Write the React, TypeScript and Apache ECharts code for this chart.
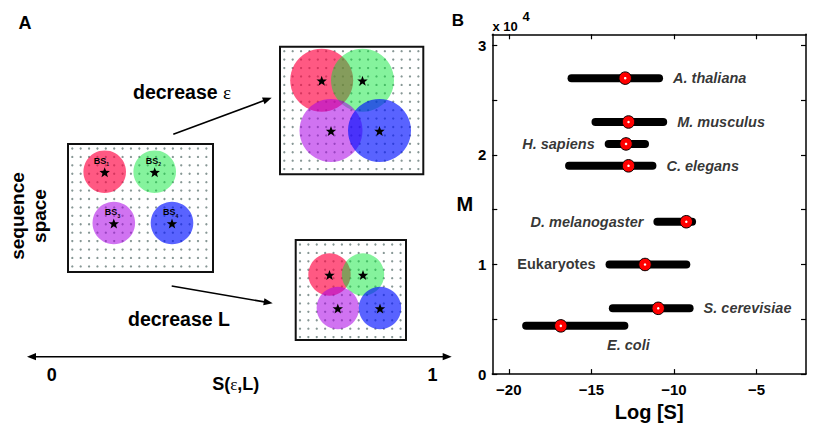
import { useEffect, useRef } from 'react';
import * as echarts from 'echarts';

// ---- Panel B data ----
const species = ['A. thaliana', 'M. musculus', 'H. sapiens', 'C. elegans', 'D. melanogaster', 'Eukaryotes', 'S. cerevisiae', 'E. coli'];
const mValues = [27000, 23000, 21000, 19000, 13900, 10000, 6000, 4400];
const logSLow = [-16.2, -14.75, -13.95, -16.35, -11.0, -13.9, -13.7, -18.95];
const logSHigh = [-10.9, -10.65, -11.75, -11.3, -8.9, -9.25, -9.05, -13.0];
const logSMid = [-12.95, -12.75, -12.9, -12.75, -9.25, -11.75, -10.95, -16.85];
const xTicks = [-20, -15, -10, -5];
const yTicks = [0, 5000, 10000, 15000, 20000, 25000, 30000];
const yLabelValues = [0, 10000, 20000, 30000];

// ---- Panel A text ----
const bsLabels = ['1', '2', '3', '4'];

const FONT = "'Liberation Sans', Arial, sans-serif";
const SERIF = "'Liberation Serif', 'DejaVu Serif', serif";

const labelSide: Record<string, string> = {
  'A. thaliana': 'right', 'M. musculus': 'right', 'H. sapiens': 'left', 'C. elegans': 'right',
  'D. melanogaster': 'left', 'Eukaryotes': 'left', 'S. cerevisiae': 'right', 'E. coli': 'bottom',
};

function starPts(cx: number, cy: number, R: number, r: number) {
  const pts: number[][] = [];
  for (let i = 0; i < 10; i++) {
    const a = -Math.PI / 2 + (i * Math.PI) / 5;
    const rad = i % 2 === 0 ? R : r;
    pts.push([cx + rad * Math.cos(a), cy + rad * Math.sin(a)]);
  }
  return pts;
}

function arrow(x1: number, y1: number, x2: number, y2: number, both = false) {
  const els: any[] = [];
  const dx = x2 - x1, dy = y2 - y1;
  const L = Math.hypot(dx, dy);
  const ux = dx / L, uy = dy / L;
  const nx = -uy, ny = ux;
  const len = 9, w = 3.6;
  const head = (tx: number, ty: number, sx: number, sy: number) => {
    const bx = tx - len * sx, by = ty - len * sy;
    return {
      type: 'polygon', silent: true,
      shape: { points: [[tx, ty], [bx + w * nx, by + w * ny], [bx - w * nx, by - w * ny]] },
      style: { fill: '#000' },
    };
  };
  els.push({ type: 'line', silent: true, shape: { x1: both ? x1 + 4 * ux : x1, y1: both ? y1 + 4 * uy : y1, x2: x2 - 4 * ux, y2: y2 - 4 * uy }, style: { stroke: '#000', lineWidth: 1.6 } });
  els.push(head(x2, y2, ux, uy));
  if (both) els.push(head(x1, y1, -ux, -uy));
  return els;
}

const circleColors = ['rgba(255,0,64,0.65)', 'rgba(0,230,50,0.48)', 'rgba(170,0,230,0.55)', 'rgba(0,16,255,0.65)'];

function box(x0: number, y0: number, x1: number, y1: number, centers: number[][], r: number, starR: number, withBS: boolean) {
  const els: any[] = [];
  els.push({ type: 'rect', silent: true, shape: { x: x0, y: y0, width: x1 - x0, height: y1 - y0 }, style: { fill: '#fff' } });
  for (let x = x0 + 4.3; x < x1 - 2; x += 8.38) {
    for (let y = y0 + 4.5; y < y1 - 2; y += 8.42) {
      els.push({ type: 'circle', silent: true, shape: { cx: x, cy: y, r: 1.15 }, style: { fill: '#879795' } });
    }
  }
  centers.forEach((c, i) => {
    els.push({ type: 'circle', silent: true, shape: { cx: c[0], cy: c[1], r }, style: { fill: circleColors[i] } });
  });
  centers.forEach((c) => {
    els.push({ type: 'polygon', silent: true, shape: { points: starPts(c[0], c[1] + 1, starR, starR * 0.42) }, style: { fill: '#000' } });
  });
  if (withBS) {
    centers.forEach((c, i) => {
      const dx = i === 0 ? -11 : -9;
      els.push({ type: 'text', silent: true, x: c[0] + dx, y: c[1] - 11, style: { text: 'BS', font: `bold 9px ${FONT}`, fill: '#000', textAlign: 'left', textVerticalAlign: 'middle', align: 'left', verticalAlign: 'middle' } });
      els.push({ type: 'text', silent: true, x: c[0] + dx + 12.6, y: c[1] - 7.5, style: { text: bsLabels[i], font: `bold 5px ${FONT}`, fill: '#000', textAlign: 'left', textVerticalAlign: 'middle', align: 'left', verticalAlign: 'middle' } });
    });
  }
  els.push({ type: 'rect', silent: true, shape: { x: x0, y: y0, width: x1 - x0, height: y1 - y0 }, style: { fill: 'none', stroke: '#111', lineWidth: 2 } });
  return els;
}

function txt(x: number, y: number, text: string, font: string, align = 'center', extra: any = {}) {
  return {
    type: 'text', silent: true, x, y, ...extra,
    style: { text, font, fill: '#000', textAlign: align, textVerticalAlign: 'middle', align, verticalAlign: 'middle', ...(extra.style || {}) },
  };
}

export default function App() {
  const ref = useRef<HTMLDivElement>(null);
  useEffect(() => {
    if (!ref.current) return;
    const chart = echarts.init(ref.current, null, { renderer: 'svg' });

    const graphics: any[] = [];
    // Panel A
    graphics.push(txt(25, 23, 'A', `bold 18px ${FONT}`));
    graphics.push(...box(68, 144, 213, 272, [[104.7, 171.7], [154.7, 171.7], [113.8, 223], [172, 223]], 21.3, 5.5, true));
    graphics.push(...box(280, 46.7, 423.3, 174.3, [[321.7, 80.3], [362.5, 80.3], [331, 130.5], [379.5, 130.5]], 31.5, 5.5, false));
    graphics.push(...box(295.7, 240, 406, 340, [[329.5, 274.5], [363, 274.5], [337.8, 308], [380, 308]], 21.2, 5.5, false));
    graphics.push(...arrow(173.3, 134.3, 271.7, 97.7));
    graphics.push(...arrow(171.7, 286, 272.7, 303.3));
    graphics.push(...arrow(27, 356.7, 451.7, 356.7, true));
    graphics.push({
      type: 'text', silent: true, x: 133, y: 92,
      style: {
        text: '{a|decrease }{e|ε}', textAlign: 'left', textVerticalAlign: 'middle', align: 'left', verticalAlign: 'middle',
        rich: { a: { font: `bold 19.5px ${FONT}`, fill: '#000', color: '#000' }, e: { font: `19px ${SERIF}`, fill: '#000', color: '#000' } },
      },
    });
    graphics.push(txt(128, 319, 'decrease L', `bold 19.5px ${FONT}`, 'left'));
    graphics.push(txt(51.7, 375, '0', `bold 18px ${FONT}`));
    graphics.push(txt(432.5, 375, '1', `bold 18px ${FONT}`));
    graphics.push({
      type: 'text', silent: true, x: 235.7, y: 384,
      style: {
        text: '{a|S(}{e|ε}{a|,L)}', textAlign: 'center', textVerticalAlign: 'middle', align: 'center', verticalAlign: 'middle',
        rich: { a: { font: `bold 18px ${FONT}`, fill: '#000', color: '#000' }, e: { font: `17px ${SERIF}`, fill: '#000', color: '#000' } },
      },
    });
    graphics.push({
      type: 'text', silent: true, x: 28, y: 216, rotation: Math.PI / 2,
      style: { text: 'sequence\nspace', font: `bold 19px ${FONT}`, fill: '#000', lineHeight: 22, textAlign: 'center', textVerticalAlign: 'middle', align: 'center', verticalAlign: 'middle' },
    });
    // Panel B annotations
    graphics.push(txt(458, 20, 'B', `bold 17px ${FONT}`));
    graphics.push(txt(492.5, 26, 'x 10', `bold 13px ${FONT}`, 'left'));
    graphics.push(txt(522.5, 16, '4', `bold 13px ${FONT}`, 'left'));

    const lineSeries = species.map((s, i) => ({
      type: 'line', name: s, silent: true, symbol: 'none', z: 2,
      data: [[logSLow[i], mValues[i]], [logSHigh[i], mValues[i]]],
      lineStyle: { color: '#000', width: 8, cap: 'round' },
    }));

    const labelData = species.map((s, i) => {
      const side = labelSide[s];
      const x = side === 'left' ? logSLow[i] : logSHigh[i];
      return {
        value: [x, mValues[i]],
        label: {
          show: true, formatter: s,
          position: side, distance: side === 'bottom' ? 12 : 14,
          offset: side === 'bottom' ? [4, 0] : [0, 0],
          fontStyle: s === 'Eukaryotes' ? 'normal' : 'italic',
        },
      };
    });

    const axisCommon = {
      type: 'value',
      axisLine: { show: true, onZero: false, lineStyle: { color: '#000', width: 1.5 } },
      splitLine: { show: false },
    };

    chart.setOption({
      animation: false,
      backgroundColor: '#fff',
      grid: { left: 492.3, right: 24, top: 34.3, bottom: 52.7 },
      xAxis: [
        {
          ...axisCommon, min: -21, max: -2, position: 'bottom',
          axisTick: { show: true, inside: true, length: 5, customValues: xTicks, lineStyle: { color: '#000', width: 1.2 } },
          axisLabel: {
            show: true, customValues: xTicks, margin: 8, color: '#000', fontWeight: 'bold', fontSize: 15, fontFamily: FONT,
            formatter: (v: number) => (v < 0 ? '\u2212' + Math.abs(v) : String(v)),
          },
          name: 'Log [S]', nameLocation: 'middle', nameGap: 27,
          nameTextStyle: { color: '#000', fontWeight: 'bold', fontSize: 20, fontFamily: FONT },
        },
        {
          ...axisCommon, min: -21, max: -2, position: 'top',
          axisTick: { show: true, inside: true, length: 5, customValues: xTicks, lineStyle: { color: '#000', width: 1.2 } },
          axisLabel: { show: false },
        },
      ],
      yAxis: [
        {
          ...axisCommon, min: 0, max: 31000, position: 'left',
          axisTick: { show: true, inside: true, length: 5, customValues: yTicks, lineStyle: { color: '#000', width: 1.2 } },
          axisLabel: {
            show: true, customValues: yLabelValues, margin: 6, color: '#000', fontWeight: 'bold', fontSize: 15, fontFamily: FONT,
            formatter: (v: number) => String(v / 10000),
          },
          name: 'M', nameLocation: 'middle', nameRotate: 0, nameGap: 14,
          nameTextStyle: { color: '#000', fontWeight: 'bold', fontSize: 20, fontFamily: FONT },
        },
        {
          ...axisCommon, min: 0, max: 31000, position: 'right',
          axisTick: { show: true, inside: true, length: 5, customValues: yTicks, lineStyle: { color: '#000', width: 1.2 } },
          axisLabel: { show: false },
        },
      ],
      series: [
        ...lineSeries,
        {
          type: 'scatter', silent: true, z: 3, symbol: 'circle', symbolSize: 12.5,
          data: species.map((_, i) => [logSMid[i], mValues[i]]),
          itemStyle: { color: '#ff0000', borderColor: '#000', borderWidth: 1, opacity: 1 },
        },
        {
          type: 'scatter', silent: true, z: 4, symbol: 'circle', symbolSize: 2.5,
          data: species.map((_, i) => [logSMid[i], mValues[i]]),
          itemStyle: { color: '#fff', opacity: 1 },
        },
        {
          type: 'scatter', silent: true, z: 5, symbolSize: 0,
          data: labelData,
          label: { color: '#000', fontWeight: 'bold', fontSize: 14.5, fontFamily: FONT },
        },
      ],
      graphic: { elements: graphics },
    });
    return () => chart.dispose();
  }, []);
  return <div ref={ref} style={{ position: 'absolute', left: 0, top: 0, width: 830, height: 427, background: '#fff' }} />;
}
